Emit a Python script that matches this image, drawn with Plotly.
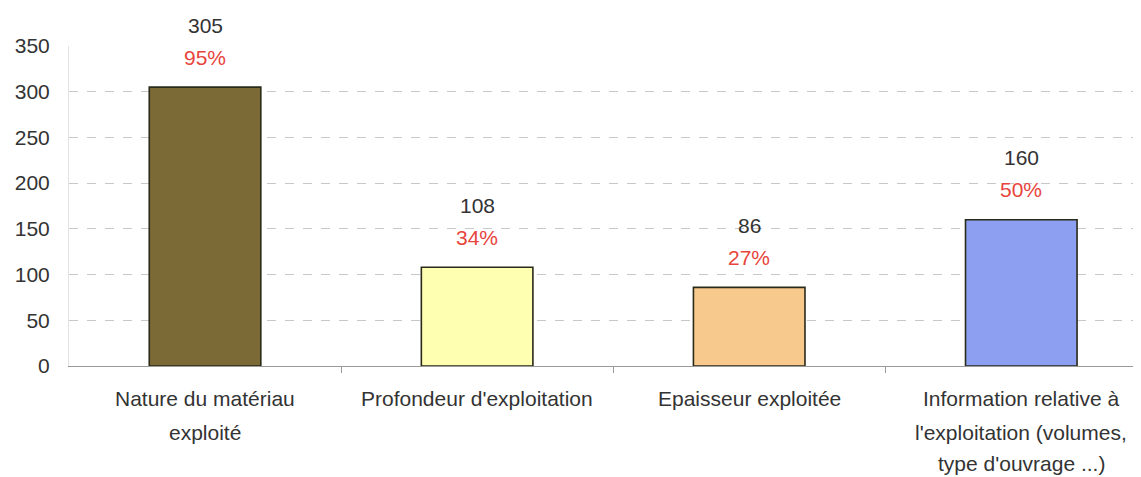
import plotly.graph_objects as go

categories = ["Nature du matériau\nexploité",
              "Profondeur d'exploitation",
              "Epaisseur exploitée",
              "Information relative à\nl'exploitation (volumes,\ntype d'ouvrage ...)"]
values = [305, 108, 86, 160]
percents = ["95%", "34%", "27%", "50%"]
colors = ["#7b6a36", "#ffffb2", "#f8c98c", "#8d9ff0"]
y_ticks = [0, 50, 100, 150, 200, 250, 300, 350]

FONT = "Liberation Sans, Arial, sans-serif"
xs = list(range(len(categories)))
line_shifts = [-32, -66, -97]

fig = go.Figure()
fig.add_trace(go.Bar(
    x=xs, y=values, width=0.41,
    marker=dict(color=colors, line=dict(color="#2a2a1a", width=1.6)),
    hoverinfo="skip",
))

annotations = []
for x, v, p in zip(xs, values, percents):
    annotations.append(dict(x=x, y=v, xref="x", yref="y", text=str(v), showarrow=False,
                            yanchor="middle", yshift=62,
                            font=dict(family=FONT, size=21, color="#333333")))
    annotations.append(dict(x=x, y=v, xref="x", yref="y", text=p, showarrow=False,
                            yanchor="middle", yshift=30,
                            font=dict(family=FONT, size=21, color="#e8453c")))
for x, cat in zip(xs, categories):
    for k, line in enumerate(cat.split("\n")):
        annotations.append(dict(x=x, y=0, xref="x", yref="y", text=line, showarrow=False,
                                yanchor="middle", yshift=line_shifts[k],
                                font=dict(family=FONT, size=21, color="#333333")))

fig.update_layout(
    width=1133, height=469,
    margin=dict(l=61, r=0, t=38, b=111, autoexpand=False),
    paper_bgcolor="white", plot_bgcolor="white",
    showlegend=False,
    annotations=annotations,
    xaxis=dict(
        range=[-0.5, 3.44],
        tickvals=xs, ticktext=["" for _ in xs],
        showgrid=False, zeroline=False,
        showline=True, linecolor="#9a9a9a", linewidth=1.2,
        ticks="", automargin=False,
        minor=dict(tickvals=[0.5, 1.5, 2.5], ticks="outside", ticklen=6,
                   tickcolor="#9a9a9a", tickwidth=1, showgrid=False),
    ),
    yaxis=dict(
        range=[0, 350],
        tickvals=y_ticks,
        ticktext=[str(t) for t in y_ticks],
        showgrid=True, gridcolor="#c8c8c8", griddash="dash", gridwidth=1,
        zeroline=False,
        showline=True, linecolor="#e2e2e2", linewidth=1,
        ticks="", ticklabelstandoff=14, automargin=False,
        tickfont=dict(family=FONT, size=21, color="#333333"),
    ),
)

fig.write_html("out.html")
